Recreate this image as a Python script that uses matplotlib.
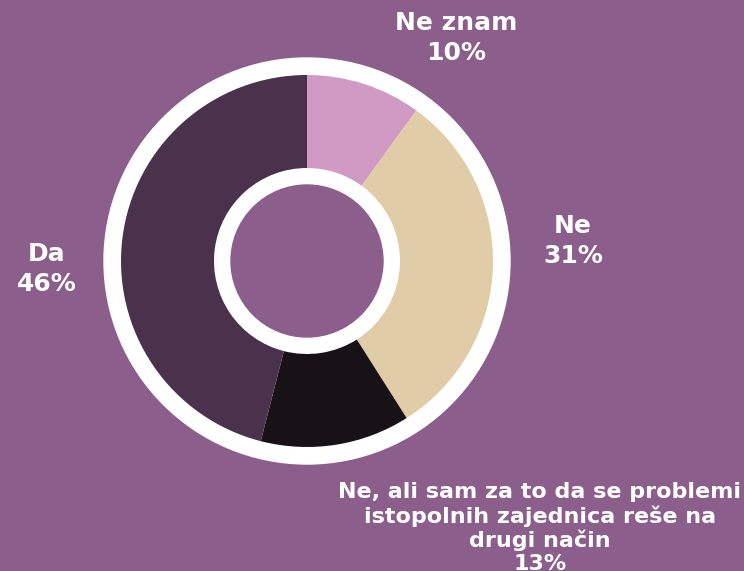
import matplotlib.pyplot as plt
from matplotlib.patches import Circle

# answer categories, going clockwise from the top
names = ['Ne znam', 'Ne',
         'Ne, ali sam za to da se problemi\nistopolnih zajednica reše na\ndrugi način',
         'Da']
shares = [10, 31, 13, 46]
colors = ['#d09ac5', '#e0cca7', '#181216', '#4a324c']

bg = '#8b5e8b'

fig = plt.figure(figsize=(7.44, 5.71), dpi=100, facecolor=bg)
ax = fig.add_axes([0, 0, 1, 1])

cx, cy = 307, 310

ax.add_patch(Circle((cx, cy), 203, color='white', zorder=0))
ax.pie(shares, colors=colors, startangle=90, counterclock=False,
       center=(cx, cy), radius=186, frame=True,
       wedgeprops=dict(width=93, linewidth=0))
ax.add_patch(Circle((cx, cy), 76, color=bg, zorder=5))
ax.set_xlim(0, 744)
ax.set_ylim(0, 571)
ax.set_aspect('equal')
ax.axis('off')

# label spots (pixels from the top-left), sizes, line gaps
spots = [(456, 38), (573, 241), (540, 528), (47, 269)]
sizes = [18, 18, 16, 18]
gaps = [1.3, 1.3, 1.17, 1.3]
for name, s, (x, y), fs, ls in zip(names, shares, spots, sizes, gaps):
    ax.text(x, 571 - y, f'{name}\n{s}%', ha='center', va='center',
            color='white', fontsize=fs, fontweight='bold',
            linespacing=ls, family='DejaVu Sans')

fig.savefig('out.png', dpi=100, facecolor=bg)
